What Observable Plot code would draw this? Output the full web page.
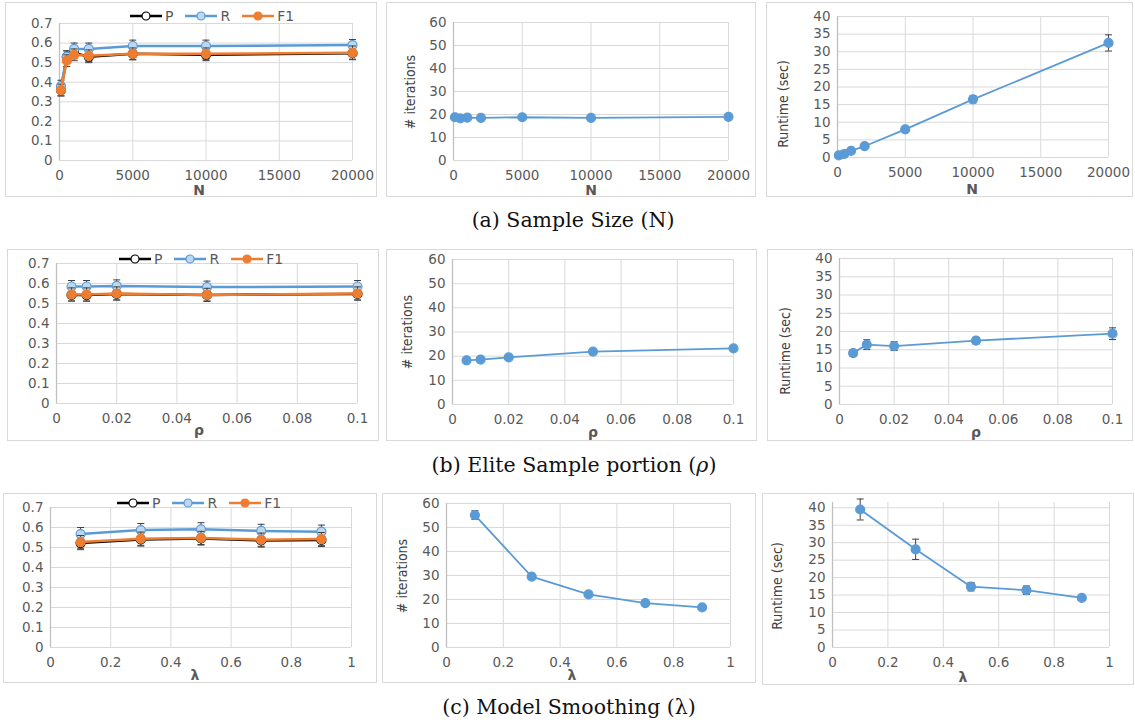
<!DOCTYPE html>
<html><head><meta charset="utf-8">
<script src="https://cdn.jsdelivr.net/npm/d3@7"></script>
<script src="https://cdn.jsdelivr.net/npm/@observablehq/plot@0.6"></script>
<style>
body{margin:0;background:#fff;}
#root{position:relative;width:1135px;height:726px;overflow:hidden;font-family:"DejaVu Sans",sans-serif;}
.panel{position:absolute;outline:1px solid #d9d9d9;outline-offset:-1px;}
.panel svg{position:absolute;left:0;top:0;overflow:visible;}
.xl{position:absolute;transform:translate(-50%,-50%);font-family:"DejaVu Sans",sans-serif;font-weight:bold;font-size:14px;line-height:14px;color:#595959;white-space:nowrap;}
.yl{position:absolute;transform:translate(-50%,-50%) rotate(-90deg);font-family:"Liberation Sans Narrow","DejaVu Sans Condensed",sans-serif;font-stretch:condensed;font-size:14px;color:#404040;white-space:nowrap;}
.cap{position:absolute;transform:translate(-50%,-50%);font-family:"DejaVu Serif",serif;font-size:20.5px;color:#111;white-space:nowrap;}
.legend{position:absolute;display:flex;align-items:center;font-size:14px;color:#595959;font-family:"DejaVu Sans",sans-serif;}
.legend .it{display:flex;align-items:center;margin-right:12px;}
.legend svg{margin-right:3px;}
</style></head>
<body><div id="root"></div>
<script>
// ---------------- data ----------------
const seriesNames = ["P", "R", "F1"];
// (a) sample size N
const N = [100, 500, 1000, 2000, 5000, 10000, 20000];
const nP  = [0.36, 0.53, 0.55, 0.53, 0.545, 0.54, 0.548];
const nR  = [0.38, 0.53, 0.57, 0.57, 0.585, 0.585, 0.59];
const nF1 = [0.36, 0.51, 0.54, 0.535, 0.545, 0.545, 0.55];
const nErrP  = [0.03, 0.03, 0.03, 0.03, 0.03, 0.03, 0.03];
const nErrR  = [0.03, 0.03, 0.03, 0.03, 0.03, 0.03, 0.028];
const nErrF1 = [0.03, 0.03, 0.03, 0.03, 0.03, 0.03, 0.035];
const nIter = [18.8, 18.3, 18.6, 18.5, 18.8, 18.5, 19.0];
const nIterErr = [0.3, 0.3, 0.3, 0.3, 0.3, 0.3, 0.3];
const nTime = [0.6, 1.0, 1.9, 3.2, 8.0, 16.5, 32.5];
const nTimeErr = [0.1, 0.1, 0.2, 0.3, 0.4, 1.0, 2.3];
// (b) elite sample portion rho
const rho = [0.005, 0.01, 0.02, 0.05, 0.1];
const rP  = [0.543, 0.542, 0.548, 0.543, 0.548];
const rR  = [0.585, 0.585, 0.588, 0.582, 0.585];
const rF1 = [0.545, 0.545, 0.55, 0.543, 0.55];
const rErrP  = [0.03, 0.03, 0.03, 0.03, 0.03];
const rErrR  = [0.03, 0.03, 0.03, 0.03, 0.03];
const rErrF1 = [0.033, 0.033, 0.033, 0.033, 0.033];
const rIter = [18.3, 18.6, 19.5, 21.9, 23.2];
const rIterErr = [0.3, 0.3, 0.3, 0.3, 0.3];
const rTime = [14.1, 16.4, 16.0, 17.5, 19.4];
const rTimeErr = [0.9, 1.35, 1.2, 0.9, 1.6];
// (c) model smoothing lambda
const lam = [0.1, 0.3, 0.5, 0.7, 0.9];
const lP  = [0.522, 0.54, 0.545, 0.535, 0.538];
const lR  = [0.567, 0.587, 0.591, 0.583, 0.579];
const lF1 = [0.527, 0.544, 0.548, 0.539, 0.542];
const lErrP  = [0.033, 0.033, 0.033, 0.033, 0.033];
const lErrR  = [0.033, 0.033, 0.033, 0.033, 0.033];
const lErrF1 = [0.033, 0.033, 0.033, 0.033, 0.033];
const lIter = [55.2, 29.5, 22.1, 18.5, 16.7];
const lIterErr = [1.8, 0.5, 0.4, 0.4, 0.4];
const lTime = [39.5, 28.1, 17.4, 16.4, 14.2];
const lTimeErr = [3.0, 2.9, 1.2, 1.2, 0.7];
// ticks
const nTicks = [0, 5000, 10000, 15000, 20000];
const rhoTicks = [0, 0.02, 0.04, 0.06, 0.08, 0.1];
const lamTicks = [0, 0.2, 0.4, 0.6, 0.8, 1];
const prTicks = [0, 0.1, 0.2, 0.3, 0.4, 0.5, 0.6, 0.7];
const iterTicks = [0, 10, 20, 30, 40, 50, 60];
const timeTicks = [0, 5, 10, 15, 20, 25, 30, 35, 40];

// ---------------- helpers ----------------
const BLUE = "#5b9bd5", ORANGE = "#ed7d31", LBLUE = "#bdd7ee", ERR = "#404040";
const seriesStyle = {
  P:  {stroke: "#000000", fill: "#ffffff"},
  R:  {stroke: BLUE, fill: LBLUE},
  F1: {stroke: ORANGE, fill: ORANGE}
};
const fmt = d => String(+(+d).toFixed(3));
const cap = {draw(ctx) { ctx.moveTo(-3.5, 0); ctx.lineTo(3.5, 0); }};
const root = document.getElementById("root");

function errMarks(xs, ys, es) {
  const data = xs.map((x, i) => ({x, lo: ys[i] - es[i], hi: ys[i] + es[i]}));
  return [
    Plot.ruleX(data, {x: "x", y1: "lo", y2: "hi", stroke: ERR, strokeWidth: 1}),
    Plot.dot(data, {x: "x", y: "hi", symbol: cap, fill: "none", stroke: ERR, strokeWidth: 1, r: 3}),
    Plot.dot(data, {x: "x", y: "lo", symbol: cap, fill: "none", stroke: ERR, strokeWidth: 1, r: 3})
  ];
}
function seriesMarks(xs, ys, es, st, lw, r) {
  const data = xs.map((x, i) => ({x, y: ys[i]}));
  return [
    ...errMarks(xs, ys, es),
    Plot.line(data, {x: "x", y: "y", stroke: st.stroke, strokeWidth: lw}),
    Plot.dot(data, {x: "x", y: "y", r, fill: st.fill, stroke: st.stroke, strokeWidth: 1.2})
  ];
}

function panel(cfg) {
  const [l, t, r, b] = cfg.box;
  const [x0, x1, yt, yb] = cfg.area;
  const div = document.createElement("div");
  div.className = "panel";
  Object.assign(div.style, {left: l + "px", top: t + "px", width: (r - l) + "px", height: (b - t) + "px"});
  const svg = Plot.plot({
    width: r - l, height: b - t,
    marginLeft: x0 - l, marginRight: r - x1, marginTop: yt - t, marginBottom: b - yb,
    x: {domain: cfg.xDomain},
    y: {domain: cfg.yDomain},
    style: {fontFamily: "DejaVu Sans, sans-serif", fontSize: "13.5px", color: "#595959", background: "transparent", overflow: "visible"},
    marks: [
      Plot.gridX(cfg.xTicks, {stroke: "#d9d9d9", strokeOpacity: 1, strokeWidth: 1}),
      Plot.gridY(cfg.yTicks, {stroke: "#d9d9d9", strokeOpacity: 1, strokeWidth: 1}),
      Plot.ruleX([cfg.xDomain[0]], {stroke: "#bfbfbf", strokeWidth: 1.3}),
      Plot.axisX(cfg.xTicks, {tickSize: 0, tickPadding: 10, label: null, tickFormat: fmt, fill: "#595959"}),
      Plot.axisY(cfg.yTicks, {tickSize: 0, tickPadding: 7, label: null, tickFormat: fmt, fill: "#595959"}),
      ...cfg.marks
    ]
  });
  div.appendChild(svg);
  root.appendChild(div);
  if (cfg.xLabel) addText("xl", cfg.xLabel, cfg.xLabelPos);
  if (cfg.yLabel) addText("yl", cfg.yLabel, cfg.yLabelPos);
}
function addText(cls, text, [x, y], html) {
  const d = document.createElement("div");
  d.className = cls;
  d.style.left = x + "px"; d.style.top = y + "px";
  if (html) d.innerHTML = text; else d.textContent = text;
  root.appendChild(d);
}
function legend(x, y) {
  const d = document.createElement("div");
  d.className = "legend";
  d.style.left = x + "px"; d.style.top = (y - 9) + "px"; d.style.height = "18px";
  for (const name of seriesNames) {
    const st = seriesStyle[name];
    const it = document.createElement("span");
    it.className = "it";
    it.innerHTML = `<svg width="32" height="12"><line x1="0" x2="32" y1="6" y2="6" stroke="${st.stroke}" stroke-width="2.5"/><circle cx="16" cy="6" r="4" fill="${st.fill}" stroke="${st.stroke}" stroke-width="1.2"/></svg><span>${name}</span>`;
    d.appendChild(it);
  }
  root.appendChild(d);
}
function prMarks(xs, P, R, F1, eP, eR, eF1) {
  return [
    ...seriesMarks(xs, P, eP, seriesStyle.P, 2.5, 4.5),
    ...seriesMarks(xs, R, eR, seriesStyle.R, 2.5, 4.5),
    ...seriesMarks(xs, F1, eF1, seriesStyle.F1, 2.5, 4.5)
  ];
}
const single = (xs, ys, es) => seriesMarks(xs, ys, es, {stroke: BLUE, fill: BLUE}, 1.8, 4.5);

// ---------------- row (a) ----------------
panel({box: [5, 2, 377, 197], area: [59, 352, 23, 160], xDomain: [0, 20000], xTicks: nTicks, yDomain: [0, 0.7], yTicks: prTicks,
  marks: prMarks(N, nP, nR, nF1, nErrP, nErrR, nErrF1), xLabel: "N", xLabelPos: [199, 190]});
legend(130, 16);
panel({box: [386, 2, 756, 197], area: [453, 728, 22, 160], xDomain: [0, 20000], xTicks: nTicks, yDomain: [0, 60], yTicks: iterTicks,
  marks: single(N, nIter, nIterErr), xLabel: "N", xLabelPos: [591, 190], yLabel: "# iterations", yLabelPos: [410, 92]});
panel({box: [766, 2, 1133, 197], area: [837, 1108, 16, 157], xDomain: [0, 20000], xTicks: nTicks, yDomain: [0, 40], yTicks: timeTicks,
  marks: single(N, nTime, nTimeErr), xLabel: "N", xLabelPos: [972, 189], yLabel: "Runtime (sec)", yLabelPos: [783, 104]});
addText("cap", "(a) Sample Size (N)", [573, 220]);

// ---------------- row (b) ----------------
panel({box: [7, 249, 379, 441], area: [56, 357, 263, 403], xDomain: [0, 0.1], xTicks: rhoTicks, yDomain: [0, 0.7], yTicks: prTicks,
  marks: prMarks(rho, rP, rR, rF1, rErrP, rErrR, rErrF1), xLabel: "ρ", xLabelPos: [199, 430]});
legend(119, 259);
panel({box: [386, 249, 757, 441], area: [452, 733, 259, 404], xDomain: [0, 0.1], xTicks: rhoTicks, yDomain: [0, 60], yTicks: iterTicks,
  marks: single(rho, rIter, rIterErr), xLabel: "ρ", xLabelPos: [593, 432], yLabel: "# iterations", yLabelPos: [407, 332]});
panel({box: [767, 249, 1133, 441], area: [839, 1112, 258, 404], xDomain: [0, 0.1], xTicks: rhoTicks, yDomain: [0, 40], yTicks: timeTicks,
  marks: single(rho, rTime, rTimeErr), xLabel: "ρ", xLabelPos: [976, 432], yLabel: "Runtime (sec)", yLabelPos: [785, 351]});
addText("cap", "(b) Elite Sample portion (<i>ρ</i>)", [574, 465], true);

// ---------------- row (c) ----------------
panel({box: [3, 493, 377, 683], area: [50, 351, 507, 647], xDomain: [0, 1], xTicks: lamTicks, yDomain: [0, 0.7], yTicks: prTicks,
  marks: prMarks(lam, lP, lR, lF1, lErrP, lErrR, lErrF1), xLabel: "λ", xLabelPos: [195, 675]});
legend(117, 503);
panel({box: [382, 493, 756, 683], area: [446, 730, 503, 647], xDomain: [0, 1], xTicks: lamTicks, yDomain: [0, 60], yTicks: iterTicks,
  marks: single(lam, lIter, lIterErr), xLabel: "λ", xLabelPos: [572, 675], yLabel: "# iterations", yLabelPos: [402, 576]});
panel({box: [762, 493, 1134, 685], area: [832, 1109, 502, 647], xDomain: [0, 1], xTicks: lamTicks, yDomain: [0, 41.5], yTicks: timeTicks,
  marks: single(lam, lTime, lTimeErr), xLabel: "λ", xLabelPos: [963, 677], yLabel: "Runtime (sec)", yLabelPos: [777, 586]});
addText("cap", "(c) Model Smoothing (λ)", [569, 707]);
</script>
</body></html>
